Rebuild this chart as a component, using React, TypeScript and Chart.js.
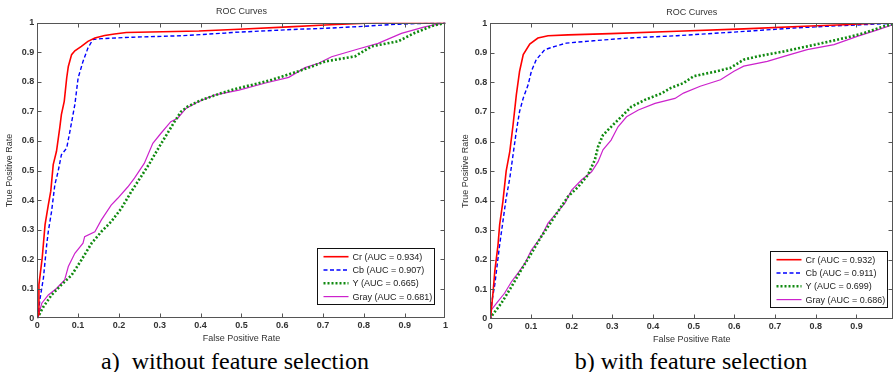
import React, { useEffect, useRef } from "react";
import { Chart, registerables } from "chart.js";

Chart.register(...registerables);

// ---------- data ----------
const X_TICKS_A = [0, 0.1, 0.2, 0.3, 0.4, 0.5, 0.6, 0.7, 0.8, 0.9, 1];
const X_TICKS_B = [0, 0.1, 0.2, 0.3, 0.4, 0.5, 0.6, 0.7, 0.8, 0.9];
const Y_TICKS = [0, 0.1, 0.2, 0.3, 0.4, 0.5, 0.6, 0.7, 0.8, 0.9, 1];

const LABELS_A = ["Cr (AUC = 0.934)", "Cb (AUC = 0.907)", "Y (AUC = 0.665)", "Gray (AUC = 0.681)"];
const LABELS_B = ["Cr (AUC = 0.932)", "Cb (AUC = 0.911)", "Y (AUC = 0.699)", "Gray (AUC = 0.686)"];

const CAPTION_A = "a)\u00a0 without feature selection";
const CAPTION_B = "b) with feature selection";

// (False Positive Rate, True Positive Rate)
const crA = [[0,0],[0.002,0.012],[0.004,0.114],[0.012,0.204],[0.019,0.317],[0.027,0.384],[0.033,0.43],[0.039,0.52],[0.047,0.565],[0.055,0.644],[0.059,0.689],[0.066,0.734],[0.072,0.813],[0.076,0.852],[0.084,0.892],[0.092,0.905],[0.108,0.92],[0.124,0.937],[0.141,0.948],[0.165,0.957],[0.189,0.962],[0.218,0.967],[0.396,0.972],[0.494,0.978],[0.616,0.986],[0.705,0.992],[0.803,0.998],[0.835,1],[1,1]];
const cbA = [[0,0],[0.002,0.012],[0.007,0.069],[0.015,0.136],[0.023,0.249],[0.027,0.294],[0.035,0.362],[0.043,0.452],[0.051,0.497],[0.059,0.553],[0.072,0.576],[0.08,0.633],[0.092,0.723],[0.1,0.813],[0.112,0.869],[0.124,0.914],[0.136,0.943],[0.157,0.946],[0.234,0.951],[0.356,0.956],[0.461,0.965],[0.478,0.967],[0.64,0.978],[0.689,0.98],[0.72,0.982],[0.803,0.988],[0.835,0.991],[0.884,0.995],[1,1]];
const yA = [[0,0],[0.002,0.005],[0.015,0.039],[0.035,0.079],[0.059,0.113],[0.084,0.146],[0.108,0.197],[0.133,0.254],[0.157,0.293],[0.181,0.327],[0.206,0.372],[0.23,0.428],[0.254,0.479],[0.275,0.524],[0.299,0.581],[0.319,0.626],[0.336,0.665],[0.352,0.699],[0.368,0.716],[0.401,0.738],[0.449,0.761],[0.478,0.773],[0.575,0.807],[0.64,0.836],[0.673,0.852],[0.705,0.869],[0.778,0.886],[0.819,0.92],[0.884,0.937],[0.924,0.965],[0.965,0.988],[1,1]];
const grayA = [[0,0],[0.002,0.005],[0.011,0.051],[0.027,0.079],[0.047,0.101],[0.067,0.13],[0.076,0.175],[0.092,0.22],[0.112,0.254],[0.116,0.276],[0.141,0.293],[0.157,0.333],[0.181,0.383],[0.197,0.406],[0.222,0.445],[0.238,0.474],[0.262,0.524],[0.283,0.592],[0.303,0.626],[0.327,0.665],[0.344,0.677],[0.364,0.71],[0.392,0.731],[0.433,0.755],[0.494,0.772],[0.559,0.796],[0.616,0.815],[0.656,0.848],[0.689,0.863],[0.721,0.885],[0.786,0.911],[0.835,0.93],[0.892,0.964],[0.949,0.986],[1,1]];

const crB = [[0,0],[0.001,0.009],[0.007,0.094],[0.011,0.161],[0.019,0.251],[0.023,0.319],[0.031,0.398],[0.039,0.5],[0.048,0.567],[0.056,0.657],[0.064,0.758],[0.072,0.838],[0.081,0.894],[0.097,0.93],[0.117,0.95],[0.142,0.958],[0.191,0.961],[0.295,0.965],[0.459,0.973],[0.623,0.981],[0.787,0.991],[0.869,0.995],[0.95,1],[1,1]];
const cbB = [[0,0],[0.001,0.009],[0.004,0.06],[0.011,0.116],[0.017,0.184],[0.023,0.251],[0.031,0.33],[0.039,0.409],[0.048,0.477],[0.056,0.556],[0.064,0.635],[0.072,0.702],[0.081,0.747],[0.093,0.792],[0.101,0.838],[0.113,0.877],[0.134,0.911],[0.159,0.922],[0.187,0.933],[0.254,0.941],[0.336,0.95],[0.459,0.958],[0.607,0.971],[0.746,0.984],[0.829,0.99],[0.911,0.995],[0.99,1],[1,1]];
const yB = [[0,0],[0.002,0.008],[0.027,0.053],[0.052,0.109],[0.076,0.166],[0.101,0.222],[0.125,0.278],[0.15,0.329],[0.166,0.363],[0.191,0.414],[0.216,0.447],[0.24,0.487],[0.257,0.538],[0.265,0.583],[0.277,0.622],[0.297,0.65],[0.322,0.684],[0.347,0.718],[0.38,0.741],[0.421,0.763],[0.443,0.781],[0.475,0.798],[0.5,0.821],[0.558,0.838],[0.59,0.849],[0.623,0.877],[0.656,0.888],[0.722,0.905],[0.779,0.922],[0.829,0.937],[0.87,0.95],[0.919,0.967],[0.968,0.99],[1,1]];
const grayB = [[0,0],[0.002,0.03],[0.015,0.053],[0.035,0.087],[0.052,0.126],[0.068,0.155],[0.085,0.188],[0.101,0.233],[0.125,0.278],[0.142,0.324],[0.159,0.352],[0.183,0.391],[0.2,0.436],[0.224,0.47],[0.249,0.498],[0.265,0.532],[0.277,0.572],[0.297,0.605],[0.314,0.65],[0.335,0.684],[0.364,0.707],[0.405,0.729],[0.454,0.746],[0.475,0.764],[0.516,0.787],[0.566,0.809],[0.599,0.838],[0.623,0.855],[0.681,0.871],[0.722,0.888],[0.779,0.911],[0.845,0.928],[0.902,0.956],[0.952,0.978],[1,1]];

// ---------- styles ----------
const FONT = '"Liberation Sans", Arial, sans-serif';
const TEXT_COLOR = "#333";
const AXIS_COLOR = "#555";
const SERIES_STYLE = [
  { color: "#ff0000", width: 1.6, dash: [] as number[] },
  { color: "#0000ff", width: 1.4, dash: [4, 2.5] },
  { color: "#108a10", width: 2.6, dash: [2, 2] },
  { color: "#cc22cc", width: 1.2, dash: [] as number[] },
];

const fmt = (v: number) => String(Math.round(v * 10) / 10);

const matlabFrame = {
  id: "matlabFrame",
  afterDatasetsDraw(chart: any) {
    const { ctx, chartArea: a } = chart;
    const xs = chart.scales.x;
    const ys = chart.scales.y;
    ctx.save();
    ctx.strokeStyle = AXIS_COLOR;
    ctx.lineWidth = 1;
    ctx.setLineDash([]);
    const L = Math.round(a.left) + 0.5, R = Math.round(a.right) - 0.5;
    const T = Math.round(a.top) + 0.5, B = Math.round(a.bottom) - 0.5;
    ctx.strokeRect(L, T, R - L, B - T);
    const len = 4;
    ctx.beginPath();
    xs.ticks.forEach((t: any) => {
      const p = Math.round(xs.getPixelForValue(t.value)) + 0.5;
      if (p <= L + 1 || p >= R - 1) return;
      ctx.moveTo(p, B); ctx.lineTo(p, B - len);
      ctx.moveTo(p, T); ctx.lineTo(p, T + len);
    });
    ys.ticks.forEach((t: any) => {
      const p = Math.round(ys.getPixelForValue(t.value)) + 0.5;
      if (p <= T + 1 || p >= B - 1) return;
      ctx.moveTo(L, p); ctx.lineTo(L + len, p);
      ctx.moveTo(R, p); ctx.lineTo(R - len, p);
    });
    ctx.stroke();
    ctx.restore();
  },
};

const boxLegend = {
  id: "boxLegend",
  afterDraw(chart: any, _args: any, opts: any) {
    const { ctx, chartArea: a } = chart;
    const ds = chart.data.datasets;
    ctx.save();
    ctx.font = `9px ${FONT}`;
    let maxW = 0;
    ds.forEach((d: any) => (maxW = Math.max(maxW, ctx.measureText(d.label).width)));
    const rowH = 13.3;
    const w = Math.round(35 + maxW + 2 + (opts.extraW || 0));
    const h = Math.round(ds.length * rowH + 3);
    const x0 = Math.round(a.right - opts.offR - w) + 0.5;
    const y0 = Math.round(a.bottom - opts.offB - h) + 0.5;
    ctx.fillStyle = "#fff";
    ctx.fillRect(x0, y0, w, h);
    ctx.strokeStyle = "#111";
    ctx.lineWidth = 1;
    ctx.strokeRect(x0, y0, w, h);
    ds.forEach((d: any, i: number) => {
      const cy = y0 + 8.2 + i * rowH;
      ctx.beginPath();
      ctx.strokeStyle = d.borderColor;
      ctx.lineWidth = d.borderWidth;
      ctx.setLineDash(d.borderDash || []);
      ctx.moveTo(x0 + 6, cy);
      ctx.lineTo(x0 + 31, cy);
      ctx.stroke();
      ctx.setLineDash([]);
      ctx.fillStyle = "#222";
      ctx.textBaseline = "middle";
      ctx.textAlign = "left";
      ctx.fillText(d.label, x0 + 35, cy + 0.5);
    });
    ctx.restore();
  },
};

type Geo = {
  width: number; height: number; xMax: number; xTicks: number[];
  yAxisW: number; xAxisH: number; padRight: number;
  titlePad: { top: number; bottom: number };
  yTitlePad: number; xTitlePad: number;
  legend: { offR: number; offB: number };
};

function RocChart({ series, labels, geo }: { series: number[][][]; labels: string[]; geo: Geo }) {
  const ref = useRef<HTMLCanvasElement>(null);
  useEffect(() => {
    if (!ref.current) return;
    const chart = new Chart(ref.current, {
      type: "line",
      data: {
        datasets: series.map((s, i) => ({
          label: labels[i],
          data: s.map(([x, y]) => ({ x, y })),
          borderColor: SERIES_STYLE[i].color,
          backgroundColor: SERIES_STYLE[i].color,
          borderWidth: SERIES_STYLE[i].width,
          borderDash: SERIES_STYLE[i].dash,
          borderCapStyle: "butt",
          borderJoinStyle: "miter",
          pointRadius: 0,
          tension: 0,
          fill: false,
        })),
      },
      options: {
        animation: false,
        responsive: false,
        maintainAspectRatio: false,
        layout: { padding: { left: 0, right: geo.padRight, top: 0, bottom: 0 } },
        plugins: {
          legend: { display: false },
          tooltip: { enabled: false },
          title: {
            display: true,
            text: "ROC Curves",
            fullSize: false,
            color: TEXT_COLOR,
            font: { family: FONT, size: 9, weight: "normal" },
            padding: geo.titlePad,
          },
          boxLegend: geo.legend,
        } as any,
        scales: {
          x: {
            type: "linear",
            min: 0,
            max: geo.xMax,
            grid: { display: false, drawTicks: false },
            border: { display: false },
            afterBuildTicks: (s: any) => { s.ticks = geo.xTicks.map((v) => ({ value: v })); },
            afterFit: (s: any) => { s.height = geo.xAxisH; },
            ticks: {
              padding: 2,
              autoSkip: false,
              maxRotation: 0,
              color: TEXT_COLOR,
              font: { family: FONT, size: 9, weight: "bold" },
              callback: (v: any) => fmt(Number(v)),
            },
            title: {
              display: true,
              text: "False Positive Rate",
              color: TEXT_COLOR,
              font: { family: FONT, size: 9 },
              padding: { top: 0, bottom: geo.xTitlePad },
            },
          },
          y: {
            type: "linear",
            min: 0,
            max: 1,
            grid: { display: false, drawTicks: false },
            border: { display: false },
            afterBuildTicks: (s: any) => { s.ticks = Y_TICKS.map((v) => ({ value: v })); },
            afterFit: (s: any) => { s.width = geo.yAxisW; },
            ticks: {
              padding: 3,
              autoSkip: false,
              color: TEXT_COLOR,
              font: { family: FONT, size: 9, weight: "bold" },
              callback: (v: any) => fmt(Number(v)),
            },
            title: {
              display: true,
              text: "True Positive Rate",
              color: TEXT_COLOR,
              font: { family: FONT, size: 9 },
              padding: { top: geo.yTitlePad, bottom: 0 },
            },
          },
        },
      } as any,
      plugins: [matlabFrame, boxLegend],
    });
    return () => chart.destroy();
  }, []);
  return <canvas ref={ref} width={geo.width} height={geo.height} style={{ width: geo.width, height: geo.height, display: "block" }} />;
}

const GEO_A: Geo = {
  width: 450, height: 348, xMax: 1, xTicks: X_TICKS_A,
  yAxisW: 37.3, xAxisH: 29.7, padRight: 2.3,
  titlePad: { top: 6, bottom: 5.9 },
  yTitlePad: 4.6, xTitlePad: 3.6,
  legend: { offR: 11.7, offB: 14.3 },
};
const GEO_B: Geo = {
  width: 445, height: 348, xMax: 0.99, xTicks: X_TICKS_B,
  yAxisW: 40.3, xAxisH: 29, padRight: 2,
  titlePad: { top: 7, bottom: 5.5 },
  yTitlePad: 10, xTitlePad: 2.6,
  legend: { offR: 6, offB: 12 },
};

const captionStyle: React.CSSProperties = {
  position: "absolute",
  top: 349,
  fontFamily: '"Liberation Serif", "Times New Roman", serif',
  fontSize: 24,
  lineHeight: "24px",
  color: "#000",
  whiteSpace: "pre",
  transform: "translateX(-50%)",
};

export default function App() {
  return (
    <div style={{ position: "absolute", left: 0, top: 0, width: 895, height: 372, background: "#fff", overflow: "hidden" }}>
      <div style={{ position: "absolute", left: 0, top: 0 }}>
        <RocChart series={[crA, cbA, yA, grayA]} labels={LABELS_A} geo={GEO_A} />
      </div>
      <div style={{ position: "absolute", left: 450, top: 0 }}>
        <RocChart series={[crB, cbB, yB, grayB]} labels={LABELS_B} geo={GEO_B} />
      </div>
      <div style={{ ...captionStyle, left: 235 }}>{CAPTION_A}</div>
      <div style={{ ...captionStyle, left: 691 }}>{CAPTION_B}</div>
    </div>
  );
}
